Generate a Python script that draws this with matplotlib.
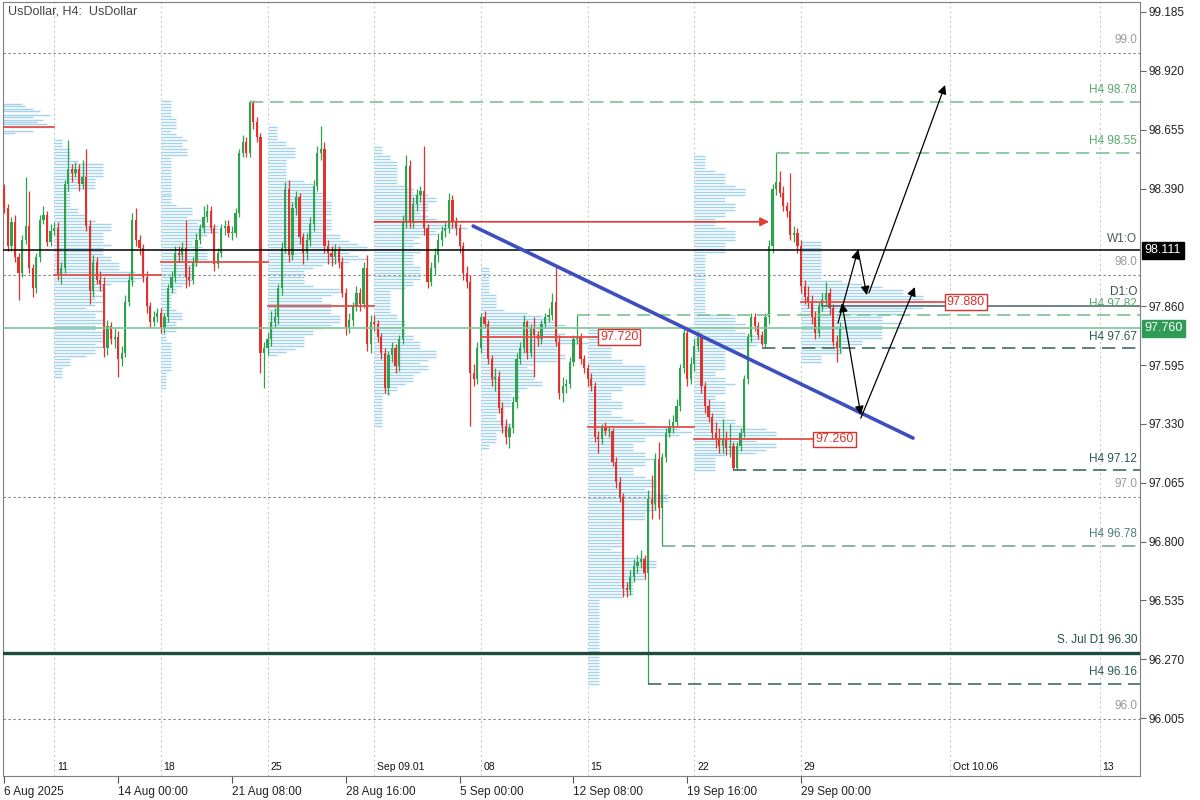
#!/usr/bin/env python3

import numpy as np
import pandas as pd
import matplotlib
matplotlib.use('Agg')
import matplotlib.pyplot as plt
from matplotlib.patches import FancyArrowPatch

plt.rcParams['font.family'] = ['Liberation Sans', 'DejaVu Sans']

# H4 candles from 6 Aug 2025 16:00, one value per bar; each bar opens at the previous close
first_open = 98.39
closes = [
    98.30, 98.13, 98.24, 98.08, 98.01, 98.16, 98.22, 98.03, 97.94, 98.08, 98.25, 98.27, 98.15, 98.20, 98.21,
    98.00, 98.03, 98.41, 98.48, 98.46, 98.48, 98.41, 98.44, 98.22, 97.93, 98.06, 97.98, 97.96, 97.67, 97.77,
    97.71, 97.72, 97.62, 97.65, 97.88, 97.98, 98.25, 98.16, 98.12, 97.99, 97.86, 97.79, 97.81, 97.83, 97.76,
    97.81, 97.94, 97.99, 98.10, 98.09, 98.12, 97.99, 97.98, 98.06, 98.16, 98.21, 98.26, 98.29, 98.21, 98.05,
    98.10, 98.21, 98.22, 98.19, 98.19, 98.28, 98.55, 98.60, 98.55, 98.78, 98.69, 98.62, 97.65, 97.67, 97.71,
    97.79, 97.81, 97.94, 98.12, 98.39, 98.09, 98.30, 98.35, 98.17, 98.10, 98.16, 98.23, 98.40, 98.55, 98.57,
    98.13, 98.10, 98.08, 98.11, 98.06, 97.92, 97.76, 97.80, 97.86, 97.92, 97.87, 98.03, 97.69, 97.79, 97.78,
    97.72, 97.65, 97.49, 97.64, 97.67, 97.59, 97.71, 98.24, 98.49, 98.24, 98.32, 98.36, 98.38, 98.21, 97.97,
    98.03, 98.09, 98.16, 98.20, 98.21, 98.34, 98.24, 98.21, 98.13, 98.01, 97.97, 97.56, 97.53, 97.67, 97.81,
    97.78, 97.62, 97.53, 97.54, 97.40, 97.32, 97.27, 97.31, 97.43, 97.62, 97.67, 97.79, 97.65, 97.76, 97.73,
    97.71, 97.78, 97.81, 97.82, 97.88, 97.70, 97.47, 97.50, 97.51, 97.61, 97.71, 97.72, 97.62, 97.58, 97.53,
    97.50, 97.27, 97.26, 97.31, 97.30, 97.30, 97.16, 97.07, 97.00, 96.59, 96.58, 96.64, 96.69, 96.71, 96.72,
    96.66, 96.99, 96.97, 97.17, 96.95, 97.18, 97.29, 97.32, 97.34, 97.41, 97.58, 97.74, 97.53, 97.60, 97.68,
    97.72, 97.50, 97.41, 97.36, 97.29, 97.26, 97.23, 97.26, 97.22, 97.23, 97.13, 97.23, 97.29, 97.53, 97.72,
    97.81, 97.77, 97.73, 97.69, 97.81, 98.13, 98.39, 98.42, 98.37, 98.31, 98.29, 98.18, 98.19, 98.13, 97.95,
    97.90, 97.88, 97.81, 97.74, 97.86, 97.89, 97.92, 97.85, 97.70, 97.67, 97.76,
]
highs = [
    98.41, 98.32, 98.26, 98.27, 98.10, 98.18, 98.44, 98.38, 98.05, 98.10, 98.27, 98.31, 98.29, 98.23, 98.24,
    98.24, 98.06, 98.43, 98.61, 98.50, 98.51, 98.50, 98.52, 98.57, 98.25, 98.09, 98.08, 98.02, 97.99, 97.80,
    97.79, 97.76, 97.75, 97.68, 97.91, 98.01, 98.28, 98.30, 98.18, 98.14, 98.02, 97.88, 97.84, 97.85, 97.85,
    97.83, 97.96, 98.02, 98.13, 98.13, 98.15, 98.25, 98.04, 98.08, 98.19, 98.23, 98.31, 98.32, 98.31, 98.23,
    98.12, 98.23, 98.25, 98.25, 98.22, 98.30, 98.57, 98.63, 98.62, 98.79, 98.79, 98.71, 98.64, 97.70, 97.74,
    97.84, 97.85, 97.96, 98.15, 98.42, 98.43, 98.33, 98.38, 98.37, 98.19, 98.19, 98.26, 98.43, 98.58, 98.67,
    98.60, 98.16, 98.13, 98.14, 98.13, 98.08, 97.94, 97.83, 97.88, 97.95, 97.94, 98.06, 98.09, 97.82, 97.82,
    97.80, 97.74, 97.67, 97.66, 97.70, 97.69, 97.73, 98.27, 98.54, 98.52, 98.35, 98.39, 98.40, 98.58, 98.23,
    98.06, 98.12, 98.19, 98.22, 98.24, 98.37, 98.36, 98.26, 98.23, 98.15, 98.04, 98.00, 97.60, 97.70, 97.83,
    97.84, 97.80, 97.64, 97.58, 97.57, 97.43, 97.35, 97.33, 97.45, 97.65, 97.70, 97.82, 97.80, 97.78, 97.81,
    97.75, 97.80, 97.83, 97.85, 97.92, 98.04, 97.73, 97.54, 97.53, 97.63, 97.73, 97.82, 97.74, 97.64, 97.60,
    97.56, 97.52, 97.30, 97.33, 97.34, 97.32, 97.31, 97.18, 97.09, 97.02, 96.62, 96.67, 96.72, 96.74, 96.76,
    96.74, 97.03, 97.10, 97.20, 97.25, 97.20, 97.31, 97.35, 97.37, 97.44, 97.60, 97.76, 97.76, 97.63, 97.71,
    97.75, 97.74, 97.52, 97.44, 97.38, 97.34, 97.31, 97.35, 97.30, 97.33, 97.25, 97.25, 97.31, 97.55, 97.74,
    97.83, 97.83, 97.79, 97.75, 97.83, 98.16, 98.41, 98.55, 98.47, 98.40, 98.33, 98.46, 98.22, 98.21, 98.16,
    97.98, 97.95, 97.91, 97.84, 97.88, 97.92, 97.97, 97.94, 97.87, 97.73, 97.79,
]
lows = [
    98.28, 98.11, 98.11, 98.06, 97.89, 97.99, 98.14, 98.01, 97.90, 97.92, 98.06, 98.23, 98.13, 98.13, 98.18,
    97.98, 97.96, 98.01, 98.38, 98.42, 98.44, 98.38, 98.39, 98.20, 97.87, 97.90, 97.96, 97.93, 97.63, 97.64,
    97.69, 97.67, 97.54, 97.59, 97.63, 97.86, 97.95, 98.13, 98.09, 97.97, 97.83, 97.76, 97.77, 97.79, 97.74,
    97.74, 97.79, 97.92, 97.97, 98.06, 98.07, 97.94, 97.95, 97.96, 98.04, 98.14, 98.19, 98.24, 98.19, 98.02,
    98.03, 98.08, 98.18, 98.17, 98.16, 98.17, 98.26, 98.53, 98.53, 98.53, 98.66, 98.60, 97.56, 97.49, 97.64,
    97.68, 97.76, 97.78, 97.91, 98.10, 98.06, 98.07, 98.27, 98.14, 98.05, 98.07, 98.13, 98.20, 98.38, 98.52,
    98.10, 98.05, 98.04, 98.05, 98.03, 97.90, 97.73, 97.74, 97.77, 97.84, 97.84, 97.85, 97.66, 97.65, 97.75,
    97.70, 97.62, 97.47, 97.46, 97.61, 97.56, 97.57, 97.69, 98.21, 98.21, 98.21, 98.29, 98.33, 98.18, 97.94,
    97.95, 98.00, 98.06, 98.13, 98.17, 98.19, 98.21, 98.18, 98.10, 97.98, 97.94, 97.32, 97.50, 97.51, 97.65,
    97.76, 97.60, 97.50, 97.48, 97.38, 97.29, 97.24, 97.22, 97.29, 97.40, 97.60, 97.65, 97.62, 97.63, 97.54,
    97.68, 97.69, 97.76, 97.79, 97.80, 97.68, 97.44, 97.43, 97.47, 97.49, 97.59, 97.69, 97.60, 97.56, 97.50,
    97.48, 97.25, 97.20, 97.24, 97.28, 97.27, 97.14, 97.04, 96.98, 96.55, 96.55, 96.56, 96.62, 96.66, 96.68,
    96.63, 96.16, 96.90, 96.94, 96.90, 96.78, 97.16, 97.27, 97.29, 97.32, 97.39, 97.56, 97.50, 97.51, 97.57,
    97.66, 97.47, 97.38, 97.34, 97.26, 97.22, 97.20, 97.20, 97.19, 97.18, 97.12, 97.12, 97.21, 97.27, 97.51,
    97.70, 97.75, 97.71, 97.68, 97.67, 97.78, 98.10, 98.36, 98.35, 98.29, 98.26, 98.16, 98.15, 98.10, 97.92,
    97.87, 97.85, 97.78, 97.71, 97.72, 97.84, 97.86, 97.82, 97.68, 97.61, 97.65,
]

# right end of the 4 Aug week profile, the only part left on screen
prev_profile_price = [98.77, 98.76, 98.75, 98.74, 98.72, 98.71, 98.70, 98.69, 98.68, 98.665, 98.65, 98.64]
prev_profile_size = [21.0, 21.8, 24.1, 26.0, 28.8, 24.1, 26.9, 25.2, 28.0, 29.5, 24.1, 19.0]

# weekly point of control, 4 Aug .. 29 Sep
poc_price = [98.665, 98.00, 98.06, 97.86, 98.24, 97.72, 97.315, 97.26, 97.88]
naked_poc_until = {4: 215, 5: 167, 7: 227.5, 8: 264.5}

# H4 swing levels and the bar they start from
h4_levels = [98.78, 98.55, 97.82, 97.67, 97.12, 96.78, 96.16]
h4_from_bar = [69, 217, 161, 213, 205, 185, 181]

round_levels = [99.0, 98.0, 97.0, 96.0]
week_open = 98.111
day_open = 97.86
last_price = 97.76
support_jul = 96.30

trend_x = [131.8, 255.5]
trend_y = [98.221, 97.266]

path_up = [(234.4, 97.784), (240.0, 98.113), (242.5, 97.91)]
path_up_last = [(243.1, 97.92), (264.5, 98.856)]
path_down = [(235.5, 97.874), (240.8, 97.37)]
path_down_last = [(240.8, 97.356), (256.0, 97.946)]

price_ticks = [99.185, 98.920, 98.655, 98.390, 97.860, 97.595, 97.330,
               97.065, 96.800, 96.535, 96.270, 96.005]
grid_labels = ['11', '18', '25', 'Sep 09.01', '08', '15', '22', '29', 'Oct 10.06', '13']
future_mondays = ['2025-10-06', '2025-10-13']

# bar clock
days = pd.bdate_range('2025-08-06', '2025-09-30')
times = pd.DatetimeIndex([d + pd.Timedelta(hours=4 * k) for d in days for k in range(6)])[4:]
assert len(times) == len(closes) == len(highs) == len(lows)

c = np.array(closes)
o = np.array([first_open] + closes[:-1])
h = np.array(highs)
l = np.array(lows)
x = np.arange(len(c))

mondays = list(np.flatnonzero((times.weekday == 0) & (times.hour == 0)))
next_bar = times[-1] + pd.Timedelta(hours=4)
for d in future_mondays:
    mondays.append(len(times) + (pd.Timestamp(d) - next_bar) / pd.Timedelta(hours=4))

fig = plt.figure(figsize=(12, 8), dpi=100)
ax = fig.add_axes([3 / 1200, 24 / 800, 1137 / 1200, 774 / 800])
ax.set_xlim(-0.38, 319.3)
ax.set_ylim(95.744, 99.23)

for m in mondays:
    ax.axvline(m, color='#c4c4c4', lw=0.7, ls=(0, (2, 3)), zorder=1)
for p in round_levels:
    ax.axhline(p, color='#7a7a7a', lw=0.8, ls=(0, (2, 2.5)), zorder=1.5)

# volume profiles (time at price per week)
profile_span = [25, 16, 28, 26, 30, 29, 23, 40]
step = 0.0135
pcol = '#a3d3ea'
ax.hlines(prev_profile_price, -16, -16 + np.array(prev_profile_size), colors=pcol, lw=1.0, zorder=2)
week_starts = mondays[:8]
for k, s in enumerate(week_starts):
    e = week_starts[k + 1] if k + 1 < len(week_starts) else len(c)
    lo, hi = l[s:e].min(), h[s:e].max()
    levels = np.arange(lo, hi + step / 2, step)
    counts = ((l[s:e, None] <= levels) & (h[s:e, None] >= levels)).sum(axis=0)
    widths = counts / counts.max() * profile_span[k]
    ax.hlines(levels, s, s + widths, colors=pcol, lw=1.0, zorder=2)

# candles
col = np.where(c >= o, '#2fa24f', '#e2322b')
ax.vlines(x, l, h, colors=col, lw=0.9, zorder=4)
body = np.where(np.abs(c - o) < 0.004, 0.004, c - o)
ax.bar(x, body, bottom=o, width=0.62, color=col, linewidth=0, zorder=5)

# weekly POC lines
poc_start = [-16] + week_starts
poc_end = week_starts + [len(c)]
for k, p in enumerate(poc_price):
    s, e = poc_start[k], poc_end[k]
    if k in naked_poc_until:
        e = naked_poc_until[k]
    if k == 4:
        ax.annotate('', xy=(e, p), xytext=(s, p),
                    arrowprops=dict(arrowstyle='-|>', color='#e53a33', lw=1.2,
                                    mutation_scale=13, shrinkA=0, shrinkB=0), zorder=6)
        continue
    ax.plot([s, e], [p, p], color='#e0514a', lw=1.3, zorder=6)
    if k in naked_poc_until:
        ax.text(e + 0.5, p, f'{p:.3f}', color='#d9322b', fontsize=9, va='center', ha='left',
                bbox=dict(boxstyle='square,pad=0.15', fc='white', ec='#d9322b', lw=1), zorder=8)

# H4 levels
h4_line_col = ['#7cc292', '#7cc292', '#7cc292', '#3b6d64', '#3b6d64', '#7fa69c', '#3b6d64']
h4_text_col = ['#58a86d', '#58a86d', '#58a86d', '#2c5c55', '#2c5c55', '#4f7e77', '#2c5c55']
for p, b, lc in zip(h4_levels, h4_from_bar, h4_line_col):
    ax.plot([b, 319.3], [p, p], color=lc, lw=1.2, ls=(0, (8, 4)), zorder=6)

ax.axhline(week_open, color='black', lw=1.1, zorder=6)
ax.plot([230, 319.3], [day_open, day_open], color='#546e72', lw=1.2, zorder=6)
ax.axhline(last_price, color='#7fc597', lw=1.2, zorder=6)
ax.axhline(support_jul, color='#1d4b40', lw=2.4, zorder=6)

ax.plot(trend_x, trend_y, color='#3d4fc0', lw=2.6, solid_capstyle='round', zorder=7)


def arrow(a, b, style='-|>'):
    ax.add_patch(FancyArrowPatch(a, b, arrowstyle=style, mutation_scale=13, color='black',
                                 lw=0.9, shrinkA=0, shrinkB=0, zorder=9))


for a, b in zip(path_up[:-1], path_up[1:]):
    arrow(a, b)
arrow(*path_up_last)
arrow(*path_down, style='<|-|>')
arrow(*path_down_last)

# right side labels
ytr = ax.get_yaxis_transform()


def level_label(text, p, color, dy=4):
    ax.annotate(text, xy=(0.9974, p), xycoords=ytr, xytext=(0, dy), textcoords='offset points',
                ha='right', va='bottom', fontsize=8.5, color=color, zorder=10)


for p in round_levels:
    level_label(f'{p:.1f}', p, '#9a9a9a', dy=5)
for p, tc in zip(h4_levels, h4_text_col):
    level_label(f'H4 {p:.2f}', p, tc)
level_label('W1:O', week_open, '#4a5a5a')
level_label('D1:O', day_open, '#3d4f52', dy=6)
level_label('S. Jul D1 96.30', support_jul, '#1f4f45', dy=5)

ax.text(1.004, week_open, f'{week_open:.3f}', transform=ytr, color='white', fontsize=9,
        va='center', ha='left', bbox=dict(boxstyle='square,pad=0.2', fc='black', ec='black'),
        clip_on=False)
ax.text(1.004, last_price, f'{last_price:.3f}', transform=ytr, color='white', fontsize=9,
        va='center', ha='left', bbox=dict(boxstyle='square,pad=0.2', fc='#2f9b55', ec='#2f9b55'),
        clip_on=False)

ax.yaxis.tick_right()
ax.set_yticks(price_ticks)
ax.set_yticklabels([f'{v:.3f}' for v in price_ticks])
ax.tick_params(axis='y', labelsize=8.5, length=4, color='#666', labelcolor='#222', pad=2)

# time axis
tick_bars = list(range(0, len(c), 32))
tick_text = ['6 Aug 2025'] + [f'{times[i].day} {times[i]:%b %H:%M}' for i in tick_bars[1:]]
ax.set_xticks(tick_bars)
ax.set_xticklabels(tick_text, ha='left')
ax.tick_params(axis='x', labelsize=8.5, length=5, color='#555', labelcolor='#222', pad=2)

xtr = ax.get_xaxis_transform()
for m, t in zip(mondays, grid_labels):
    ax.text(m + 0.8, 0.011, t, transform=xtr, fontsize=7.5, color='#111', va='center', ha='left')

for sp in ax.spines.values():
    sp.set_color('#7f7f7f')

fig.text(8 / 1200, 1 - 12 / 800, 'UsDollar, H4:  UsDollar', fontsize=9, color='#444', va='center')

fig.savefig('out.png', dpi=100)
